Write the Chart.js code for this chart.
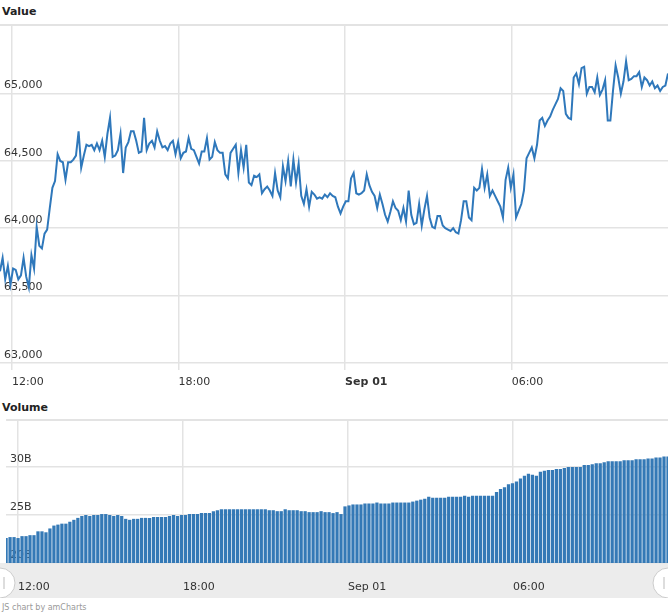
<!DOCTYPE html>
<html><head><meta charset="utf-8">
<script src="https://cdn.jsdelivr.net/npm/chart.js@4"></script>
<style>
body{margin:0;width:668px;height:612px;overflow:hidden;background:#fff;font-family:"DejaVu Sans",Verdana,sans-serif;}
.t{position:absolute;left:2px;font-size:11px;font-weight:bold;color:#222;}
#c1w{position:absolute;left:0;top:0;width:668px;height:395px;}
#c2w{position:absolute;left:0;top:395px;width:668px;height:203px;}
#foot{position:absolute;left:2px;top:603px;font-size:8px;color:#999;}
</style></head><body>
<div class="t" style="top:5px">Value</div>
<div class="t" style="top:401px">Volume</div>
<div id="c1w"><canvas id="c1"></canvas></div>
<div id="c2w"><canvas id="c2"></canvas></div>
<div id="foot">JS chart by amCharts</div>
<script>
const startMinute = 694, endMinute = 2138;
const tickMinutes = [720, 1080, 1440, 1800];
const tickLabels = ['12:00', '18:00', 'Sep 01', '06:00'];
const valueTicks = [63000, 63500, 64000, 64500, 65000];
const volumeTicks = [20, 25, 30];
const values = [63680,63780,63620,63720,63580,63700,63690,63620,63650,63780,63640,63560,63800,63700,64010,63870,63850,63960,63990,64150,64300,64350,64550,64500,64490,64360,64490,64490,64510,64540,64720,64450,64540,64620,64610,64620,64580,64630,64580,64650,64530,64700,64820,64530,64540,64580,64700,64410,64600,64640,64720,64720,64650,64560,64570,64820,64580,64630,64650,64600,64720,64650,64600,64610,64580,64630,64650,64550,64640,64520,64560,64570,64670,64590,64580,64530,64480,64570,64570,64670,64510,64530,64640,64580,64560,64560,64400,64370,64560,64590,64620,64410,64580,64450,64620,64340,64320,64390,64380,64400,64260,64290,64310,64280,64240,64410,64280,64230,64460,64350,64500,64310,64510,64340,64480,64240,64180,64290,64160,64270,64250,64220,64230,64220,64250,64230,64260,64240,64230,64160,64110,64160,64200,64200,64370,64410,64260,64250,64260,
64280,64400,64320,64270,64240,64150,64250,64180,64100,64050,64120,64200,64150,64130,64060,64150,64050,64280,64100,64030,64040,64180,64020,64140,64240,64080,64010,64000,64090,64090,64020,64000,63990,63980,64000,63970,63960,64060,64200,64200,64080,64060,64300,64280,64300,64440,64300,64400,64240,64280,64240,64200,64160,64080,64360,64450,64300,64400,64080,64130,64180,64280,64520,64560,64600,64520,64620,64800,64820,64760,64800,64830,64880,64920,64960,65040,65020,64850,64820,64810,65120,65150,65070,65190,65200,65000,65050,65050,65010,65120,64990,65030,65100,64800,64800,65020,65210,65120,65000,65090,65240,65100,65110,65130,65130,65160,65050,65120,65100,65060,65090,65040,65060,65020,65050,65060,65150];
const volumes = [22.6,22.7,22.7,22.6,22.8,22.8,22.9,22.9,23.3,23.3,
23.2,23.6,23.9,24.0,24.1,24.1,24.3,24.5,24.7,24.9,
25.0,24.9,25.0,25.0,25.1,25.1,25.0,24.9,25.0,24.9,
24.6,24.5,24.6,24.6,24.7,24.7,24.7,24.8,24.8,24.8,
24.8,24.9,25.0,24.9,25.0,25.0,25.1,25.1,25.1,25.2,
25.2,25.2,25.4,25.5,25.6,25.6,25.6,25.6,25.6,25.6,
25.6,25.6,25.6,25.6,25.6,25.6,25.5,25.5,25.4,25.4,
25.6,25.5,25.5,25.5,25.4,25.4,25.3,25.3,25.3,25.4,
25.3,25.3,25.2,25.3,25.1,25.9,26.0,26.1,26.1,26.1,
26.2,26.2,26.2,26.3,26.2,26.2,26.2,26.3,26.3,26.3,
26.3,26.3,26.4,26.5,26.6,26.7,26.9,26.8,26.8,26.8,
26.8,26.9,26.9,26.9,26.9,27.0,26.9,27.0,27.0,27.0,
27.0,27.0,27.0,27.4,27.7,27.9,28.2,28.3,28.5,28.8,
29.1,29.3,29.2,29.1,29.5,29.6,29.7,29.7,29.8,29.8,
29.9,30.0,30.0,30.0,30.0,30.2,30.2,30.3,30.4,30.4,
30.5,30.6,30.6,30.6,30.6,30.7,30.7,30.7,30.8,30.8,
30.8,30.9,30.9,31.0,31.0,31.1,31.1];

const toPts = (arr) => arr.map((v, i) => ({x: startMinute + i * (endMinute - startMinute) / (arr.length - 1), y: v}));
const FONT = {family: '"DejaVu Sans", Verdana, sans-serif', size: 11};
const GRID = '#e3e3e3';
const xAxis = (bold, pad) => ({
  type: 'linear', min: startMinute, max: endMinute, offset: false,
  afterBuildTicks: s => { s.ticks = tickMinutes.map(v => ({value: v})); },
  ticks: {
    callback: (v) => tickLabels[tickMinutes.indexOf(v)],
    align: 'start', maxRotation: 0, autoSkip: false, color: '#333', padding: pad,
    font: (c) => ({...FONT, weight: (bold && c.tick && c.tick.value === 1440) ? 'bold' : 'normal'})
  },
  grid: {color: GRID, lineWidth: 1.5, drawTicks: false, offset: false}, border: {display: false}
});
const topLine = {id: 'topLine', beforeDatasetsDraw(ch) {
  const {ctx, chartArea: a} = ch; ctx.save(); ctx.strokeStyle = GRID; ctx.lineWidth = 2;
  ctx.beginPath(); ctx.moveTo(a.left, a.top); ctx.lineTo(a.right, a.top); ctx.stroke(); ctx.restore();
}};
const yTicks = (cb) => ({mirror: true, labelOffset: -8, padding: 4, color: '#333', font: FONT, callback: cb});

new Chart(document.getElementById('c1'), {
  type: 'line',
  data: {datasets: [{data: toPts(values), borderColor: '#2f78bb', borderWidth: 2, pointRadius: 0, tension: 0}]},
  options: {
    responsive: true, maintainAspectRatio: false, animation: false,
    layout: {padding: {top: 25, left: 0, right: 0, bottom: 0}},
    plugins: {legend: {display: false}, tooltip: {enabled: false}},
    scales: {
      x: xAxis(true, 6),
      y: {min: 62948, max: 65510,
        afterBuildTicks: s => { s.ticks = valueTicks.map(v => ({value: v})); },
        afterFit: s => { s.width = 0; },
        ticks: yTicks(v => v.toLocaleString('en-US')),
        grid: {color: GRID, lineWidth: 1.5, drawTicks: false}, border: {display: false}}
    }
  },
  plugins: [topLine]
});

const navigator = {id: 'nav',
  beforeDraw(ch) {
    const {ctx, chartArea: a} = ch; ctx.save(); ctx.fillStyle = '#ececec';
    ctx.fillRect(0, a.bottom, ch.width, 35); ctx.restore();
  },
  afterDraw(ch) {
    const {ctx, chartArea: a} = ch; ctx.save();
    [0, ch.width].forEach(x => {
      ctx.beginPath(); ctx.arc(x, a.bottom + 20, 15, 0, Math.PI * 2);
      ctx.fillStyle = '#fff'; ctx.fill(); ctx.strokeStyle = '#ccc'; ctx.lineWidth = 1; ctx.stroke();
      ctx.strokeStyle = '#bbb'; ctx.beginPath();
      const d = x === 0 ? 4 : -4; ctx.moveTo(x + d, a.bottom + 14); ctx.lineTo(x + d, a.bottom + 26); ctx.stroke();
    });
    ctx.restore();
  }
};

new Chart(document.getElementById('c2'), {
  type: 'bar',
  data: {datasets: [{data: toPts(volumes), backgroundColor: '#3479b6', borderWidth: 0,
    barPercentage: 0.82, categoryPercentage: 1, grouped: false}]},
  options: {
    responsive: true, maintainAspectRatio: false, animation: false,
    layout: {padding: {top: 25, left: 0, right: 0, bottom: 0}},
    plugins: {legend: {display: false}, tooltip: {enabled: false}},
    scales: {
      x: {...xAxis(false, 18), afterFit: s => { s.height = 35; }},
      y: {min: 20, max: 34.9,
        afterBuildTicks: s => { s.ticks = volumeTicks.map(v => ({value: v})); },
        afterFit: s => { s.width = 0; },
        ticks: yTicks(v => v + 'B'),
        grid: {color: GRID, lineWidth: 1.5, drawTicks: false}, border: {display: false}}
    }
  },
  plugins: [topLine, navigator]
});
</script>
</body></html>
